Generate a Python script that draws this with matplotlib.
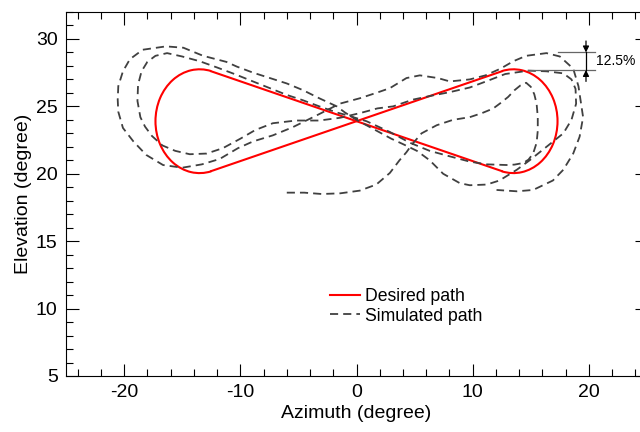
import matplotlib
matplotlib.use("Agg")
import matplotlib.pyplot as plt
from matplotlib.patches import Arc
from matplotlib.lines import Line2D
from matplotlib.ticker import MultipleLocator

plt.rcParams['font.family'] = ['Liberation Sans', 'DejaVu Sans']
plt.rcParams['axes.unicode_minus'] = False

# ---------------- data ----------------
# Desired path: two lobes (arcs) joined by two straight crossing segments
left_center = (-13.5, 23.9)
right_center = (13.5, 23.9)
lobe_width = 7.6
lobe_height = 7.7
left_arc_angles = (75, 285)
right_arc_angles = (-105, 105)
seg1_x = [-12.5, 12.5]
seg1_y = [27.6, 20.2]
seg2_x = [-12.5, 12.5]
seg2_y = [20.2, 27.6]

# Simulated path (in drawing order)
sim_pts = [
    # start, bottom centre, rising into the inner right loop
    (-6.0, 18.6), (-4.5, 18.6), (-3.0, 18.5), (-1.4, 18.55), (0.28, 18.75), (1.7, 19.2),
    (2.87, 20.06), (3.7, 21.0), (4.3, 21.6), (4.8, 22.2), (5.6, 23.0), (6.9, 23.6),
    (8.3, 24.0), (9.75, 24.2), (10.8, 24.5), (11.76, 24.84), (12.4, 25.25), (13.05, 25.7),
    (13.6, 26.2), (14.1, 26.55), (14.6, 26.75),
    # inner right loop
    (15.0, 26.45), (15.3, 25.9), (15.5, 25.2), (15.6, 24.2), (15.6, 23.2), (15.5, 22.3),
    (15.2, 21.5), (14.8, 21.05), (14.35, 20.8), (13.6, 20.68), (12.9, 20.65), (11.2, 20.7),
    (9.75, 20.9), (8.0, 21.3), (6.3, 21.7),
    # up-left, just above the red line, into the middle left loop
    (4.6, 22.3), (2.87, 23.1), (0.86, 23.9), (-0.86, 24.35), (-1.7, 24.55), (-3.2, 25.0),
    (-4.6, 25.45), (-6.0, 25.85), (-7.46, 26.35), (-9.2, 26.95), (-10.5, 27.4),
    (-12.05, 27.9), (-13.5, 28.35), (-15.0, 28.7), (-16.3, 28.95), (-17.3, 28.75),
    (-18.0, 28.3), (-18.5, 27.6), (-18.8, 26.6), (-18.85, 25.4), (-18.6, 24.2),
    (-18.2, 23.5), (-17.6, 22.8), (-16.7, 22.1), (-15.6, 21.7), (-14.35, 21.45),
    (-12.9, 21.5), (-11.5, 21.9),
    # up-right to the middle right loop
    (-10.0, 22.6), (-8.7, 23.25), (-7.2, 23.75), (-5.2, 23.95), (-3.2, 23.95),
    (-1.44, 24.15), (0.3, 24.5), (1.8, 24.85), (3.15, 25.0), (4.85, 25.5), (6.5, 25.8),
    (8.0, 26.05), (9.75, 26.4), (11.3, 26.9), (12.8, 27.4), (14.8, 27.65), (16.35, 27.6),
    (17.8, 27.45), (18.5, 27.0), (18.85, 26.3), (18.9, 25.2), (18.5, 24.0), (17.8, 23.0),
    (16.35, 22.0), (14.9, 21.0), (13.8, 20.3), (12.3, 19.5), (11.2, 19.2), (9.75, 19.15),
    (8.9, 19.3), (7.46, 20.0), (6.3, 21.0), (5.2, 21.7), (4.0, 22.2),
    # up-left, higher above the red line, into the outer left loop
    (3.0, 22.6), (1.4, 23.35), (0.0, 24.0), (-1.0, 24.55), (-1.7, 25.0), (-3.2, 25.6),
    (-4.6, 26.2), (-6.0, 26.7), (-7.46, 27.1), (-8.9, 27.5), (-10.3, 27.95),
    (-11.2, 28.3), (-13.2, 28.75), (-14.9, 29.35), (-16.4, 29.45), (-18.4, 29.2),
    (-19.5, 28.5), (-20.1, 27.6), (-20.5, 26.5), (-20.55, 25.5), (-20.5, 24.6),
    (-20.1, 23.4), (-19.2, 22.4), (-18.1, 21.4), (-16.65, 20.65), (-15.0, 20.45),
    (-13.3, 20.7), (-11.77, 21.1),
    # up-right over the top bump into the outer right loop
    (-10.2, 21.9), (-8.9, 22.4), (-7.2, 22.85), (-5.5, 23.45), (-3.5, 24.3),
    (-1.44, 25.2), (0.28, 25.6), (1.7, 26.0), (2.87, 26.35), (4.3, 27.1), (5.45, 27.3),
    (7.0, 27.1), (8.03, 26.85), (9.75, 27.0), (11.1, 27.3), (12.4, 27.8), (13.5, 28.35),
    (14.6, 28.75), (16.35, 28.95), (17.5, 28.7), (18.65, 27.8), (19.1, 26.5), (19.5, 24.2),
    (19.2, 22.75), (18.65, 21.5), (17.8, 20.3), (16.9, 19.5), (15.2, 18.8), (13.8, 18.7),
    (12.05, 18.8),
]
sim_x = [p[0] for p in sim_pts]
sim_y = [p[1] for p in sim_pts]

# Overshoot annotation
ann_top = 29.0
ann_bottom = 27.7
ann_label = "12.5%"

legend_labels = ["Desired path", "Simulated path"]

# ---------------- figure ----------------
fig = plt.figure(figsize=(6.4, 4.32), dpi=100)
ax = fig.add_axes([66/640, 56/432, 581/640, 364/432])

red = '#ff0000'
gray = '#404040'

ax.add_patch(Arc(left_center, lobe_width, lobe_height, theta1=left_arc_angles[0],
                 theta2=left_arc_angles[1], color=red, lw=1.5))
ax.add_patch(Arc(right_center, lobe_width, lobe_height, theta1=right_arc_angles[0],
                 theta2=right_arc_angles[1], color=red, lw=1.5))
ax.plot(seg1_x, seg1_y, color=red, lw=1.5)
ax.plot(seg2_x, seg2_y, color=red, lw=1.5)

ax.plot(sim_x, sim_y, color=gray, lw=1.3, dashes=(4.5, 2.8))

# annotation
ax.plot([17.3, 20.5], [ann_top, ann_top], color='#666666', lw=0.9)
ax.plot([14.75, 20.5], [ann_bottom, ann_bottom], color='#666666', lw=0.9)
ax.plot([19.75, 19.75], [ann_bottom, ann_top], color='black', lw=0.9)
ax.annotate('', xy=(19.75, ann_top), xytext=(19.75, 29.85),
            arrowprops=dict(arrowstyle='-|>', color='black', lw=0.9, mutation_scale=9,
                            shrinkA=0, shrinkB=0))
ax.annotate('', xy=(19.75, ann_bottom), xytext=(19.75, 26.85),
            arrowprops=dict(arrowstyle='-|>', color='black', lw=0.9, mutation_scale=9,
                            shrinkA=0, shrinkB=0))
ax.text(20.65, (ann_top + ann_bottom) / 2, ann_label, fontsize=10, va='center', ha='left')

ax.set_xlim(-25, 25)
ax.set_ylim(5, 32)
ax.xaxis.set_major_locator(MultipleLocator(10))
ax.xaxis.set_minor_locator(MultipleLocator(2))
ax.yaxis.set_major_locator(MultipleLocator(5))
ax.yaxis.set_minor_locator(MultipleLocator(1))
ax.tick_params(which='both', direction='in', top=True, right=True, width=0.8)
ax.tick_params(which='major', length=9, labelsize=14)
ax.tick_params(which='minor', length=5)
ax.tick_params(axis='x', pad=6)
ax.tick_params(axis='y', pad=6)
for s in ax.spines.values():
    s.set_linewidth(0.8)

ax.set_xlabel('Azimuth (degree)', fontsize=14, labelpad=3)
ax.set_ylabel('Elevation (degree)', fontsize=14, labelpad=3)

handles = [Line2D([], [], color=red, lw=1.5),
           Line2D([], [], color=gray, lw=1.3, dashes=(4.5, 2.8))]
ax.legend(handles, legend_labels, loc='upper left', bbox_to_anchor=(0.454, 0.242),
          frameon=False, fontsize=12.7, handlelength=1.7, handletextpad=0.3,
          borderpad=0, borderaxespad=0, labelspacing=0.15)

fig.savefig('out.png', dpi=100)
